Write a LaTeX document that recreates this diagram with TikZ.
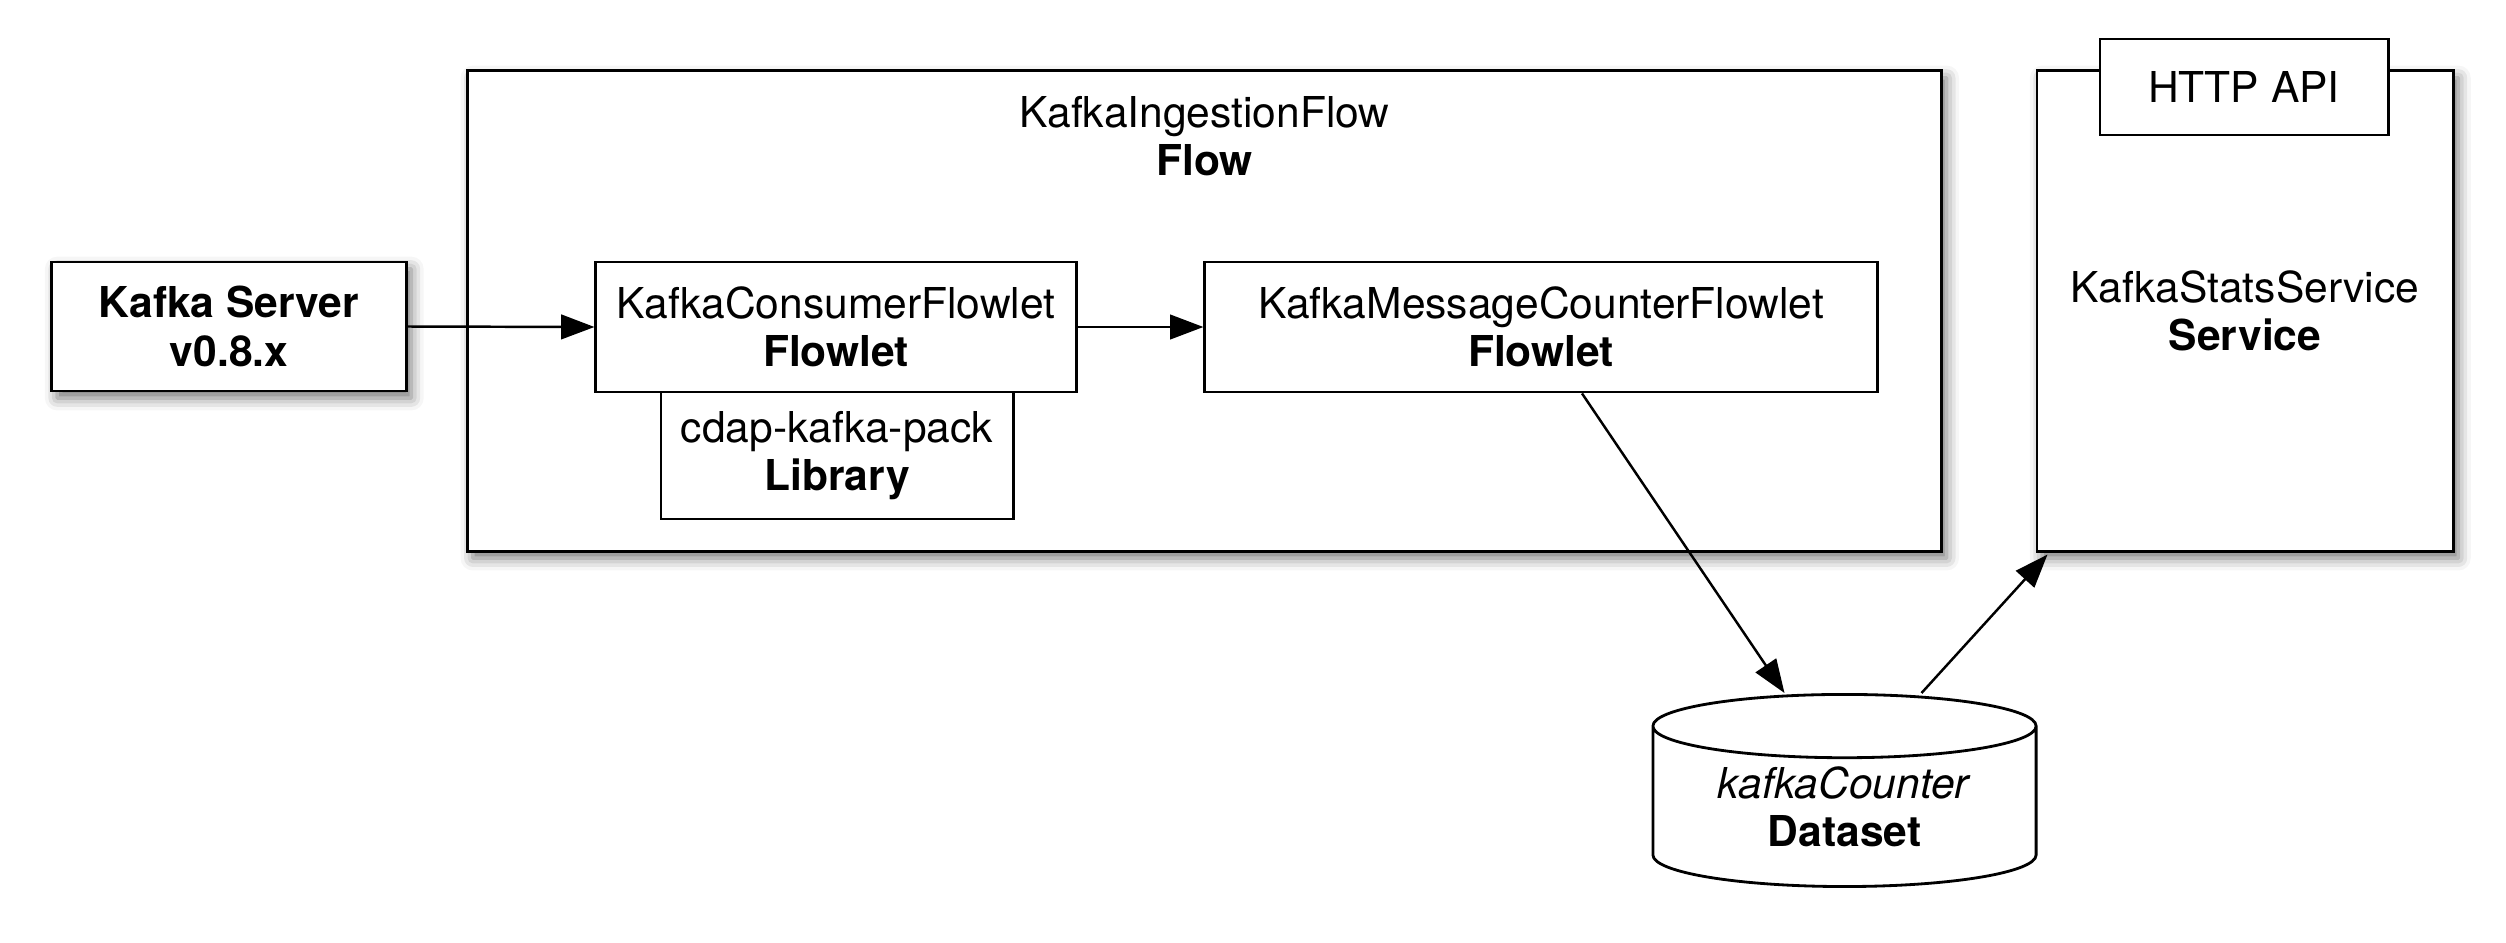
\documentclass[tikz,border=0pt]{standalone}
\usepackage{fontspec}
\setmainfont{TeX Gyre Heros}
\usetikzlibrary{arrows.meta,positioning,calc,shapes.geometric,shadows.blur}

\begin{document}
\begin{tikzpicture}[x=0.01cm,y=-0.01cm,
	font=\fontsize{12.1pt}{13.8pt}\selectfont,
	box/.style={draw, line width=0.8pt, fill=white, inner sep=0pt, align=center},
	shadebox/.style={box, blur shadow={shadow xshift=1.5pt, shadow yshift=-2pt, shadow blur radius=3.5pt, shadow opacity=55}},
	link/.style={line width=0.7pt, -{Triangle[length=9.5pt,width=7pt]}}]

	\useasboundingbox (0,0) rectangle (2506,942);

	% flow container
	\node[shadebox, minimum width=14.73cm, minimum height=4.8cm] (flow) at (1204.5,311) {};
	\node[inner sep=0pt, align=center, below=0.26cm of flow.north] (flowtitle) {KafkaIngestionFlow\\\textbf{Flow}};

	% kafka server
	\node[shadebox, minimum width=3.54cm, minimum height=1.29cm] (kafka) at (229,326.5) {\textbf{Kafka Server}\\\textbf{v0.8.x}};

	% flowlets
	\node[box, minimum width=4.8cm, minimum height=1.3cm] (consumer) at (836,327) {KafkaConsumerFlowlet\\\textbf{Flowlet}};
	\node[box, minimum width=3.52cm, minimum height=1.27cm] (library) at (837,455.5) {cdap-kafka-pack\\\textbf{Library}};
	\node[box, minimum width=6.72cm, minimum height=1.3cm] (counter) at (1541,327) {KafkaMessageCounterFlowlet\\\textbf{Flowlet}};

	% service
	\node[shadebox, minimum width=4.16cm, minimum height=4.8cm] (service) at (2245,311) {KafkaStatsService\\\textbf{Service}};
	\node[box, minimum width=2.88cm, minimum height=0.96cm] (http) at (2244,87) {HTTP API};

	% dataset
	\node[box, cylinder, shape border rotate=90, aspect=0.25, minimum width=3.83cm, minimum height=1.92cm] (dataset) at (1844.5,807) {\textit{kafkaCounter}\\\textbf{Dataset}};

	\draw[link] (kafka.east) -- (consumer.west);
	\draw[link] (consumer.east) -- (counter.west);
	\draw[link] ($(counter.south)+(41,0)$) -- ($(dataset.top)+(-60,0)$);
	\draw[link] ($(dataset.top)+(77,0)$) -- ($(service.south west)+(12,2)$);

\end{tikzpicture}
\end{document}
